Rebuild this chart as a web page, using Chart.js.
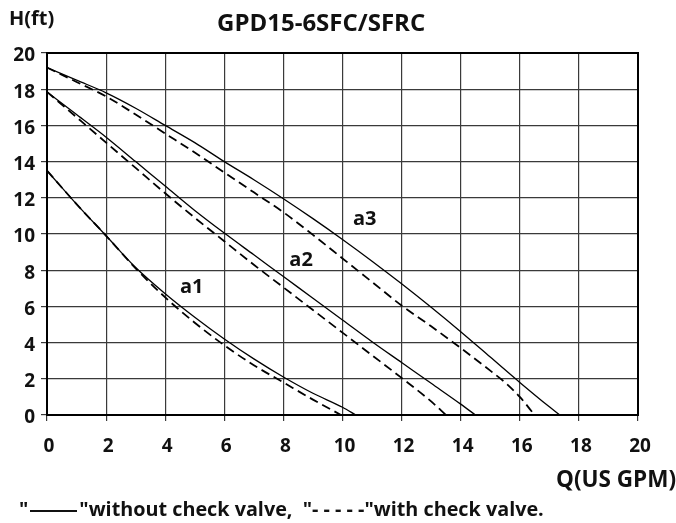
<!DOCTYPE html>
<html>
<head>
<meta charset="utf-8">
<script src="https://cdn.jsdelivr.net/npm/chart.js@4.4.1/dist/chart.umd.min.js"></script>
<style>
  html, body { margin: 0; padding: 0; background: #fff; }
  .wrap { position: relative; width: 676px; height: 523px; font-family: 'Open Sans', sans-serif; font-weight: bold; color: #111; }
  .wrap canvas { position: absolute; left: 0; top: 0; }
  .txt { position: absolute; white-space: nowrap; line-height: 1; }
  .ln { display: inline-block; width: 47px; border-top: 2px solid #111; vertical-align: middle; margin: 0 2px; }
</style>
</head>
<body>
<div class="wrap">
  <canvas id="pumpChart" width="676" height="523"></canvas>
  <div class="txt" style="left:9px; top:8px; font-size:20px;">H(ft)</div>
  <div class="txt" style="left:217px; top:10px; font-size:24px;">GPD15-6SFC/SFRC</div>
  <div class="txt" style="left:556px; top:468px; font-size:22.5px;">Q(US GPM)</div>
  <div class="txt" style="left:19px; top:499px; font-size:19.8px;">"<span class="ln"></span>"without check valve,&nbsp; "- - - - -"with check valve.</div>
</div>
<script>
// flow (US GPM) and head (ft)
const flowA1 = [0, 1, 2, 3, 4, 5, 6, 7, 8, 9, 10, 10.45];
const headA1 = [13.5, 11.65, 9.9, 8.15, 6.7, 5.4, 4.2, 3.1, 2.1, 1.2, 0.43, 0];
const flowA1Check = [0, 1, 2, 3, 4, 5, 6, 7, 8, 9, 9.95];
const headA1Check = [13.5, 11.65, 9.9, 8.1, 6.5, 5.1, 3.85, 2.75, 1.8, 0.85, 0];

const flowA2 = [0, 1, 2, 3, 4, 5, 6, 7, 8, 9, 10, 11, 12, 13, 14, 14.5];
const headA2 = [17.85, 16.6, 15.35, 14.0, 12.65, 11.3, 10.05, 8.85, 7.65, 6.45, 5.25, 4.05, 2.9, 1.75, 0.6, 0];
const flowA2Check = [0, 1, 2, 3, 4, 5, 6, 7, 8, 9, 10, 11, 12, 13, 13.5];
const headA2Check = [17.85, 16.45, 15.05, 13.65, 12.25, 10.9, 9.6, 8.3, 7.05, 5.8, 4.55, 3.3, 2.05, 0.75, 0];

const flowA3 = [0, 1, 2, 3, 4, 5, 6, 7, 8, 9, 10, 11, 12, 13, 14, 15, 16, 17, 17.35];
const headA3 = [19.2, 18.5, 17.8, 16.95, 16.0, 15.05, 14.0, 13.0, 11.95, 10.85, 9.7, 8.5, 7.25, 5.95, 4.6, 3.2, 1.8, 0.45, 0];
const flowA3Check = [0, 1, 2, 3, 4, 5, 6, 7, 8, 9, 10, 11, 12, 13, 14, 15, 15.5, 16, 16.5];
const headA3Check = [19.2, 18.4, 17.6, 16.6, 15.55, 14.5, 13.4, 12.3, 11.2, 9.95, 8.65, 7.35, 6.05, 4.9, 3.7, 2.45, 1.8, 1.0, 0];

// curve names and where they sit on the plot (Q, H)
const curveNames = ['a1', 'a2', 'a3'];
const labelQ = [4.9, 8.6, 10.75];
const labelH = [7.05, 8.55, 10.8];

const xTicks = [0, 2, 4, 6, 8, 10, 12, 14, 16, 18, 20];
const yTicks = [0, 2, 4, 6, 8, 10, 12, 14, 16, 18, 20];

const pts = (qs, hs) => qs.map((q, i) => ({ x: q, y: hs[i] }));

const solid = (data) => ({
  data, borderColor: '#000', borderWidth: 1.3, pointRadius: 0,
  cubicInterpolationMode: 'monotone', fill: false
});
const dashed = (data) => ({
  data, borderColor: '#000', borderWidth: 1.8, borderDash: [9, 5], pointRadius: 0,
  cubicInterpolationMode: 'monotone', fill: false
});

// frame + curve names
const extras = {
  id: 'extras',
  afterDatasetsDraw(chart) {
    const { ctx, chartArea: a, scales } = chart;
    ctx.save();
    ctx.strokeStyle = '#000';
    ctx.lineWidth = 2;
    ctx.strokeRect(a.left, a.top, a.right - a.left, a.bottom - a.top);
    ctx.fillStyle = '#111';
    ctx.font = 'bold 20px "Open Sans"';
    ctx.textAlign = 'center';
    ctx.textBaseline = 'middle';
    curveNames.forEach((n, i) => {
      ctx.fillText(n, scales.x.getPixelForValue(labelQ[i]), scales.y.getPixelForValue(labelH[i]));
    });
    ctx.restore();
  }
};

new Chart(document.getElementById('pumpChart'), {
  type: 'line',
  data: {
    datasets: [
      solid(pts(flowA1, headA1)), dashed(pts(flowA1Check, headA1Check)),
      solid(pts(flowA2, headA2)), dashed(pts(flowA2Check, headA2Check)),
      solid(pts(flowA3, headA3)), dashed(pts(flowA3Check, headA3Check))
    ]
  },
  options: {
    responsive: false,
    animation: false,
    layout: { padding: { left: 0, top: 53, right: 38, bottom: 68 } },
    plugins: { legend: { display: false }, tooltip: { enabled: false } },
    scales: {
      x: {
        type: 'linear', min: 0, max: 20,
        afterBuildTicks: (s) => { s.ticks = xTicks.map(v => ({ value: v })); },
        afterFit: (s) => { s.height = 40; },
        grid: { color: '#3a3a3a', lineWidth: 1.2, tickLength: 6 },
        border: { color: '#000', width: 2 },
        ticks: { color: '#111', padding: 14, labelOffset: 2, font: { family: 'Open Sans', size: 19, weight: 'bold' } }
      },
      y: {
        type: 'linear', min: 0, max: 20,
        afterBuildTicks: (s) => { s.ticks = yTicks.map(v => ({ value: v })); },
        afterFit: (s) => { s.width = 47; },
        grid: { color: '#3a3a3a', lineWidth: 1.2, tickLength: 6 },
        border: { color: '#000', width: 2 },
        ticks: { color: '#111', padding: 6, labelOffset: 3, font: { family: 'Open Sans', size: 19, weight: 'bold' } }
      }
    }
  },
  plugins: [extras]
});
</script>
</body>
</html>
